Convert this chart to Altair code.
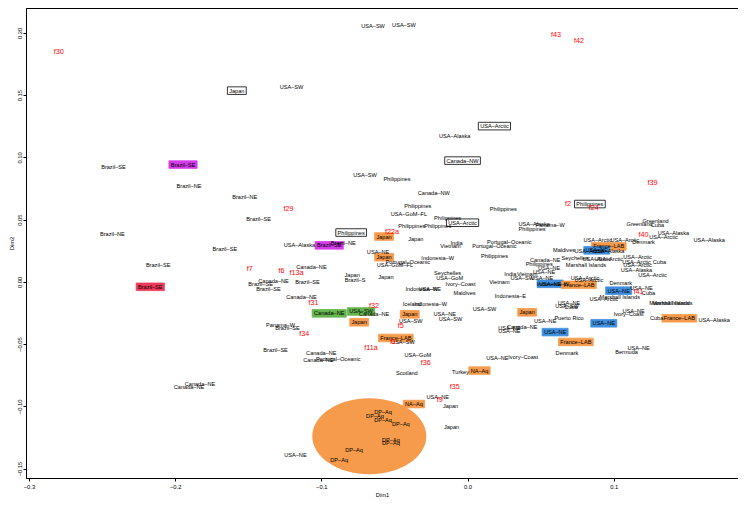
import altair as alt
import pandas as pd

# ---------------- data ----------------
# north-west group
nw_labels = ["USA-SW", "USA-SW", "USA-SW", "USA-Alaska", "Brazil-SE", "Brazil-NE", "Brazil-NE",
             "Brazil-SE", "Brazil-NE", "Brazil-SE", "Brazil-SE",
             "USA-SW", "Philippines", "Canada-NW", "Philippines", "Philippines", "USA-GoM-FL",
             "Philippines", "Philippines", "Philippines", "Japan",
             "USA-Alaska", "Brazil-NE", "USA-NE", "Portugal-Oceanic", "USA-GoM-FL", "Canada-NE",
             "Japan", "Brazil-S", "Japan", "Canada-NE", "Brazil-SE", "Brazil-SE", "Brazil-SE", "Canada-NE"]
nw_dim1 = [-0.0646, -0.0435, -0.1204, -0.0088, -0.2422, -0.1905, -0.1524,
           -0.1429, -0.2429, -0.1660, -0.2116,
           -0.0701, -0.0483, -0.0231, 0.0245, -0.0340, -0.0401,
           -0.0136, -0.0381, -0.0204, -0.0354,
           -0.1150, -0.0850, -0.0612, -0.0408, -0.0497, -0.1068,
           -0.0789, -0.0769, -0.0558, -0.1327, -0.1415, -0.1095, -0.1361, -0.1136]
nw_dim2 = [0.2059, 0.2067, 0.1568, 0.1172, 0.0926, 0.0768, 0.0681,
           0.0507, 0.0388, 0.0261, 0.0135,
           0.0855, 0.0823, 0.0713, 0.0586, 0.0610, 0.0546,
           0.0515, 0.0451, 0.0451, 0.0348,
           0.0293, 0.0309, 0.0238, 0.0158, 0.0135, 0.0119,
           0.0055, 0.0016, 0.0040, 0.0008, -0.0016, 0.0000, -0.0055, -0.0119]

# centre group
c_labels = ["India", "Vietnam", "Portugal-Oceanic", "Portugal-Oceanic", "Maldives", "Philippines",
            "Indonesia-W", "Canada-NE", "Seychelles", "Philippines", "Marshall Islands", "USA-NE",
            "USA-NE", "India", "Vietnam", "USA-SW", "USA-NE", "Indonesia-W",
            "USA-Alaska", "Panama-W", "Philippines",
            "Ivory-Coast", "Seychelles", "USA-GoM", "Vietnam", "Indonesia-W", "USA-NE"]
c_dim1 = [-0.0075, -0.0116, 0.0286, 0.0184, 0.0660, 0.0184,
          -0.0204, 0.0531, 0.0735, 0.0490, 0.0810, 0.0558,
          0.0524, 0.0293, 0.0408, 0.0374, 0.0510, 0.0585,
          0.0456, 0.0565, 0.0442,
          -0.0048, -0.0136, -0.0122, 0.0218, -0.0313, -0.0259]
c_dim2 = [0.0309, 0.0285, 0.0317, 0.0285, 0.0253, 0.0206,
          0.0190, 0.0174, 0.0190, 0.0143, 0.0135, 0.0111,
          0.0079, 0.0063, 0.0063, 0.0032, 0.0032, -0.0016,
          0.0467, 0.0459, 0.0428,
          -0.0016, 0.0071, 0.0032, 0.0000, -0.0055, -0.0055]

# east group
e_labels = ["Greenland", "Greenland", "Cuba", "USA-Alaska", "USA-Arctic", "USA-Alaska", "USA-Arctic",
            "USA-Arctic", "Denmark", "USA-Arctic", "USA-Alaska", "USA-Arctic", "USA-Arctic",
            "USA-Arctic", "USA-Arctic", "Cuba", "USA-Arctic", "USA-Alaska", "USA-Arctic",
            "USA-Arctic", "USA-Arctic", "Denmark", "USA-NE", "Cuba", "Marshall Islands",
            "USA-Arctic", "Marshall Islands", "Marshall Islands", "USA-NE", "USA-SW", "Cuba",
            "Puerto Rico", "USA-NE", "Ivory-Coast", "Cuba", "USA-Alaska", "Denmark", "USA-NE", "Bermuda"]
e_dim1 = [0.1286, 0.1177, 0.1299, 0.1408, 0.1340, 0.1653, 0.0891,
          0.1075, 0.1204, 0.0830, 0.0966, 0.0884, 0.0966,
          0.1163, 0.1156, 0.1313, 0.1163, 0.1156, 0.1265,
          0.0803, 0.0830, 0.1048, 0.1190, 0.1238, 0.1041,
          0.0932, 0.1381, 0.1401, 0.0694, 0.0680, 0.0707,
          0.0694, 0.1136, 0.1102, 0.1293, 0.1687, 0.0680, 0.1170, 0.1088]
e_dim2 = [0.0491, 0.0467, 0.0459, 0.0396, 0.0364, 0.0340, 0.0333,
          0.0333, 0.0317, 0.0245, 0.0245, 0.0182, 0.0182,
          0.0198, 0.0158, 0.0158, 0.0135, 0.0095, 0.0055,
          0.0032, 0.0016, -0.0008, -0.0048, -0.0087, -0.0119,
          -0.0135, -0.0174, -0.0174, -0.0174, -0.0198, -0.0206,
          -0.0293, -0.0238, -0.0261, -0.0293, -0.0309, -0.0570, -0.0530, -0.0562]

# south group
s_labels = ["Maldives", "Indonesia-E", "Indonesia-W", "USA-SW", "USA-NE", "USA-SW", "USA-NE",
            "USA-NE", "Canada-NE", "USA-NE", "USA-NE", "Ivory-Coast", "USA-GoM", "Turkey",
            "USA-NE", "Japan", "Japan", "USA-NE",
            "Iceland", "Canada-NE", "USA-SW", "Panama-W", "Brazil-SE", "USA-SW", "Brazil-SE",
            "Canada-NE", "Canada-NE", "Portugal-Oceanic", "Scotland", "Canada-NE", "Canada-NE"]
s_dim1 = [-0.0020, 0.0293, -0.0252, 0.0116, -0.0156, -0.0116, 0.0531,
          0.0286, 0.0374, 0.0286, 0.0204, 0.0381, -0.0340, -0.0048,
          -0.0204, -0.0116, -0.0109, -0.1177,
          -0.0381, -0.0639, -0.0388, -0.1279, -0.1231, -0.0442, -0.1313,
          -0.1000, -0.1020, -0.0884, -0.0415, -0.1830, -0.1905]
s_dim2 = [-0.0087, -0.0111, -0.0182, -0.0222, -0.0261, -0.0301, -0.0317,
          -0.0372, -0.0364, -0.0396, -0.0610, -0.0602, -0.0586, -0.0728,
          -0.0926, -0.0998, -0.1164, -0.1394,
          -0.0182, -0.0261, -0.0317, -0.0348, -0.0372, -0.0483, -0.0546,
          -0.0570, -0.0625, -0.0618, -0.0736, -0.0823, -0.0847]

# DP-Aq group and its ellipse centre
dp_dim1 = [-0.0578, -0.0633, -0.0578, -0.0456, -0.0524, -0.0524, -0.0776, -0.0878]
dp_dim2 = [-0.1045, -0.1077, -0.1108, -0.1140, -0.1267, -0.1291, -0.1354, -0.1433]
dp_centre_dim1 = [-0.0672]
dp_centre_dim2 = [-0.1240]

# red variable labels
red_labels = ["f30", "f43", "f42", "f29", "f7", "f22a", "f6", "f13a", "f2", "f39", "f24", "f40",
              "f41", "f31", "f32", "f5", "f34", "f1", "f11a", "f36", "f35", "f9"]
red_dim1 = [-0.2796, 0.0605, 0.0762, -0.1224, -0.1490, -0.0517, -0.1272, -0.1170, 0.0687, 0.1265,
            0.0864, 0.1204, 0.1170, -0.1054, -0.0639, -0.0456, -0.1116, -0.0510, -0.0660, -0.0286,
            -0.0088, -0.0190]
red_dim2 = [0.1845, 0.1987, 0.1932, 0.0586, 0.0103, 0.0404, 0.0087, 0.0071, 0.0625, 0.0792,
            0.0594, 0.0380, -0.0079, -0.0174, -0.0198, -0.0356, -0.0420, -0.0483, -0.0530, -0.0649,
            -0.0847, -0.0950]

# highlighted (boxed) labels
box_labels = ["Japan", "USA-Arctic", "Canada-NW", "Brazil-SE", "Brazil-SE", "Philippines", "Japan",
              "Brazil-SE", "Japan", "USA-Arctic", "Philippines", "USA-NE", "France-LAB", "USA-NE",
              "France-LAB", "USA-NE", "France-LAB", "USA-NE", "France-LAB", "Japan", "USA-NE",
              "NA-Aq", "NA-Aq", "Canada-NE", "USA-SW", "Japan", "Japan", "France-LAB"]
box_group = ["white", "white", "white", "magenta", "red", "white", "orange",
             "magenta", "orange", "white", "white", "blue", "orange", "blue",
             "orange", "blue", "orange", "blue", "orange", "orange", "blue",
             "orange", "orange", "green", "green", "orange", "orange", "orange"]
box_dim1 = [-0.1578, 0.0184, -0.0034, -0.1946, -0.2170, -0.0796, -0.0571,
            -0.0946, -0.0571, -0.0034, 0.0837, 0.0565, 0.0966, 0.0884,
            0.0762, 0.1034, 0.1449, 0.0932, 0.0741, 0.0408, 0.0599,
            0.0082, -0.0367, -0.0946, -0.0728, -0.0395, -0.0741, -0.0490]
box_dim2 = [0.1536, 0.1251, 0.0974, 0.0942, -0.0040, 0.0396, 0.0364,
            0.0293, 0.0198, 0.0475, 0.0625, -0.0016, 0.0285, 0.0253,
            -0.0024, -0.0071, -0.0293, -0.0333, -0.0483, -0.0245, -0.0404,
            -0.0713, -0.0982, -0.0253, -0.0238, -0.0261, -0.0325, -0.0451]

x_ticks = [-0.3, -0.2, -0.1, 0.0, 0.1]
y_ticks = [-0.15, -0.10, -0.05, 0.00, 0.05, 0.10, 0.15, 0.20]

# ---------------- styling ----------------
FONT = "Liberation Sans"
FS = 5.6
RED_FS = 7.2
DASH = "\u2013"
FILL = {"white": "#FFFFFF", "orange": "#F69A4C", "magenta": "#D43BE9", "red": "#EE3A5A",
        "green": "#66B54F", "blue": "#3F8EDD"}
ELLIPSE_COLOUR = "#F69A4C"

W = {c: w for c, w in zip("ABCDEFGHIJKLMNOPQRSTUVWXYZ",
                          [667, 667, 722, 722, 667, 611, 778, 722, 278, 500, 667, 556, 833, 722, 778,
                           667, 778, 722, 667, 611, 722, 667, 944, 667, 667, 611])}
W.update({c: w for c, w in zip("abcdefghijklmnopqrstuvwxyz",
                               [556, 556, 500, 556, 556, 278, 556, 556, 222, 222, 500, 222, 833, 556,
                                556, 556, 556, 333, 500, 278, 556, 500, 722, 500, 500, 500])})
W.update({" ": 278, DASH: 556, "-": 333})


def shown(s):
    return s.replace("-", DASH)


def box_path(s):
    hw = sum(W.get(ch, 556) for ch in shown(s)) * FS / 1000 / 2 + 1.8
    hh = 3.8
    return f"M{-hw:.2f},{-hh:.2f}H{hw:.2f}V{hh:.2f}H{-hw:.2f}Z"


# ellipse drawn as a custom symbol (size 4 => path units are pixels)
a, b, k = 57.0, 38.0, 0.5523
ellipse_path = (f"M{-a},0C{-a},{-k*b:.2f} {-k*a:.2f},{-b} 0,{-b}"
                f"C{k*a:.2f},{-b} {a},{-k*b:.2f} {a},0"
                f"C{a},{k*b:.2f} {k*a:.2f},{b} 0,{b}"
                f"C{-k*a:.2f},{b} {-a},{k*b:.2f} {-a},0Z")

# ---------------- tables ----------------
black_labels = nw_labels + c_labels + e_labels + s_labels + ["DP-Aq"] * len(dp_dim1) + box_labels
black_dim1 = nw_dim1 + c_dim1 + e_dim1 + s_dim1 + dp_dim1 + box_dim1
black_dim2 = nw_dim2 + c_dim2 + e_dim2 + s_dim2 + dp_dim2 + box_dim2
assert len(black_labels) == len(black_dim1) == len(black_dim2)
assert len(red_labels) == len(red_dim1) == len(red_dim2)
assert len(box_labels) == len(box_group) == len(box_dim1) == len(box_dim2)

text_df = pd.DataFrame({"label": [shown(s) for s in black_labels], "dim1": black_dim1, "dim2": black_dim2})
red_df = pd.DataFrame({"label": red_labels, "dim1": red_dim1, "dim2": red_dim2})
box_df = pd.DataFrame({
    "dim1": box_dim1, "dim2": box_dim2,
    "path": [box_path(s) for s in box_labels],
    "fill": [FILL[g] for g in box_group],
    "stroke": ["#000000" if g == "white" else FILL[g] for g in box_group],
})
ell_df = pd.DataFrame({"dim1": dp_centre_dim1, "dim2": dp_centre_dim2})

xs = alt.Scale(domain=[-0.302, 0.185], nice=False, zero=False)
ys = alt.Scale(domain=[-0.1576, 0.220], nice=False, zero=False)
X = alt.X("dim1:Q", scale=xs,
          axis=alt.Axis(values=x_ticks, format=".1f", title="Dim1", labelPadding=2, titlePadding=3))
Y = alt.Y("dim2:Q", scale=ys,
          axis=alt.Axis(values=y_ticks, format=".2f", title="Dim2", labelAngle=270,
                        labelAlign="center", labelBaseline="bottom", labelPadding=1, titlePadding=2))

ellipse = alt.Chart(ell_df).mark_point(shape=ellipse_path, size=4, filled=True, opacity=1,
                                       fill=ELLIPSE_COLOUR, strokeWidth=0).encode(x=X, y=Y)

boxes = alt.Chart(box_df).mark_point(size=4, filled=True, opacity=1, strokeWidth=0.8).encode(
    x=X, y=Y,
    shape=alt.Shape("path:N", scale=None),
    fill=alt.Fill("fill:N", scale=None),
    stroke=alt.Stroke("stroke:N", scale=None),
)

texts = alt.Chart(text_df).mark_text(font=FONT, fontSize=FS, color="#000000",
                                     align="center", baseline="middle").encode(x=X, y=Y, text="label:N")

reds = alt.Chart(red_df).mark_text(font=FONT, fontSize=RED_FS, color="#FF0000",
                                   align="center", baseline="middle").encode(x=X, y=Y, text="label:N")

chart = alt.layer(ellipse, boxes, texts, reds).properties(
    width=712, height=470, padding=0
).configure_view(stroke="#000000", strokeWidth=1).configure_axis(
    grid=False, domainColor="#000000", tickColor="#000000", labelColor="#000000",
    titleColor="#000000", labelFont=FONT, titleFont=FONT, labelFontSize=5.8,
    titleFontSize=5.8, titleFontWeight="normal", tickSize=3, domainWidth=1, tickWidth=1
)

chart.save("out.html", embed_options={"renderer": "svg", "actions": False})
